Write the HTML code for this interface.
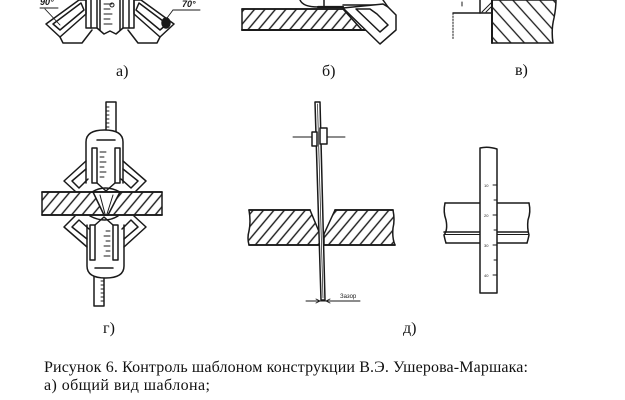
<!DOCTYPE html>
<html><head><meta charset="utf-8"><style>
html,body{margin:0;padding:0;background:#fff;}
svg{display:block;}
</style></head><body>
<svg width="625" height="400" viewBox="0 0 625 400" xmlns="http://www.w3.org/2000/svg">
<defs>
<pattern id="h1" patternUnits="userSpaceOnUse" width="8" height="8" patternTransform="rotate(40)"><line x1="1" y1="0" x2="1" y2="8" stroke="#1a1a1a" stroke-width="1.4"/></pattern>
<pattern id="h2" patternUnits="userSpaceOnUse" width="10" height="10" patternTransform="rotate(-42)"><line x1="1" y1="0" x2="1" y2="10" stroke="#1a1a1a" stroke-width="1.3"/></pattern>
</defs>
<rect width="625" height="400" fill="#fff"/>

<g fill="none" stroke="#1a1a1a" stroke-width="1.5" stroke-linejoin="round" stroke-linecap="round">

<!-- ===== Figure а) ===== -->
<g>
  <polygon points="79,0 46,24 60,37 86,14 86,0"/>
  <polygon points="81,3 53,24 60,30 84,10"/>
  <polyline points="60,37 63,43 82,43 92,30"/>
</g>
<g transform="translate(220,0) scale(-1,1)">
  <polygon points="79,0 46,24 60,37 86,14 86,0"/>
  <polygon points="81,3 53,24 60,30 84,10"/>
  <polyline points="60,37 63,43 82,43 92,30"/>
</g>
<rect x="86" y="-2" width="11" height="30"/>
<line x1="91" y1="0" x2="91" y2="28"/>
<rect x="123" y="-2" width="11" height="30"/>
<line x1="129" y1="0" x2="129" y2="28"/>
<line x1="100" y1="0" x2="100" y2="30"/>
<line x1="120" y1="0" x2="120" y2="30"/>
<polyline points="97,28 104,34 110,31 116,34 123,28"/>
<g stroke-width="1">
  <line x1="104" y1="4" x2="112" y2="4"/>
  <line x1="104" y1="9" x2="110" y2="9"/>
  <line x1="104" y1="14" x2="112" y2="14"/>
  <line x1="104" y1="19" x2="110" y2="19"/>
  <line x1="104" y1="24" x2="112" y2="24"/>
  <circle cx="112" cy="5" r="2"/>
</g>
<ellipse cx="166" cy="23" rx="4" ry="5" fill="#1a1a1a"/>
<g stroke-width="0.9">
  <line x1="40" y1="8" x2="58" y2="8"/>
  <line x1="45" y1="9" x2="60" y2="25"/>
  <line x1="173" y1="10" x2="200" y2="10"/>
  <line x1="173" y1="10" x2="164" y2="22"/>
</g>

<!-- ===== Figure б) ===== -->
<polygon points="242,9 343,9 362,30 242,30" fill="url(#h1)"/>
<line x1="242" y1="30" x2="366" y2="30" stroke-width="2"/>
<line x1="242" y1="9" x2="343" y2="9" stroke-width="1.8"/>
<path d="M300,0 Q303,7 318,7"/>
<line x1="318" y1="7" x2="343" y2="7" stroke-width="2.2"/>
<line x1="324" y1="0" x2="324" y2="7"/>
<line x1="343" y1="5" x2="378" y2="5"/>
<polygon points="343,8 380,44 396,30 396,15 388,7 383,4" fill="#fff"/>
<polygon points="356,9 380,32 388,25 377,14 370,9" fill="none"/>
<line x1="383" y1="0" x2="388" y2="7"/>

<!-- ===== Figure в) ===== -->
<path d="M492,0 L492,43 L553,43 Q551,30 554,18 Q556,8 556,0 Z" fill="url(#h2)"/>
<line x1="492" y1="0" x2="492" y2="43" stroke-width="2"/>
<line x1="453" y1="13" x2="492" y2="13"/>
<line x1="453" y1="13" x2="453" y2="40" stroke-dasharray="1.5,1.5" stroke-width="1"/>
<line x1="480" y1="0" x2="480" y2="13"/>
<line x1="482" y1="12" x2="491" y2="3" stroke-width="1"/>
<line x1="486" y1="12" x2="491" y2="7" stroke-width="1"/>
<line x1="462" y1="2" x2="462" y2="6" stroke-width="1"/>

<!-- ===== Figure г) ===== -->
<rect x="42" y="192" width="120" height="23" fill="url(#h1)"/>
<polygon points="93,192 120,192 108,215 104,215" fill="#fff"/>
<line x1="100" y1="195" x2="105" y2="214" stroke-width="1"/>
<line x1="113" y1="195" x2="107" y2="214" stroke-width="1"/>
<line x1="42" y1="192" x2="162" y2="192" stroke-width="1.8"/>
<line x1="42" y1="215" x2="162" y2="215" stroke-width="1.8"/>

<g>
  <rect x="106" y="102" width="10" height="36" fill="#fff"/>
  <g stroke-width="0.9">
    <line x1="106" y1="107" x2="109" y2="107"/><line x1="106" y1="111" x2="109" y2="111"/>
    <line x1="106" y1="115" x2="109" y2="115"/><line x1="106" y1="119" x2="109" y2="119"/>
    <line x1="106" y1="123" x2="109" y2="123"/><line x1="106" y1="127" x2="109" y2="127"/>
    <line x1="106" y1="131" x2="109" y2="131"/>
  </g>
  <path d="M86,183 L86,142 Q86,130 104.5,130 Q123,130 123,142 L123,183" fill="#fff"/>
  <rect x="92" y="148" width="5" height="35"/>
  <rect x="115" y="148" width="5" height="35"/>
  <line x1="97" y1="140" x2="115" y2="140"/>
  <polyline points="97,183 106,191 115,183"/>
  <g stroke-width="0.9">
    <line x1="100" y1="152" x2="106" y2="152"/><line x1="100" y1="157" x2="104" y2="157"/>
    <line x1="100" y1="162" x2="106" y2="162"/><line x1="100" y1="167" x2="104" y2="167"/>
    <line x1="100" y1="172" x2="106" y2="172"/><line x1="100" y1="177" x2="104" y2="177"/>
  </g>
  <polyline points="86,161 64,181 76,192"/>
  <polyline points="86,169 72,181 79,188 88,179"/>
  <polyline points="123,161 146,181 135,192"/>
  <polyline points="123,169 138,181 131,188 121,179"/>
  <path d="M92,192 Q105,184 120,192"/>
</g>
<g transform="rotate(180 105 204)">
  <rect x="106" y="102" width="10" height="36" fill="#fff"/>
  <g stroke-width="0.9">
    <line x1="106" y1="107" x2="109" y2="107"/><line x1="106" y1="111" x2="109" y2="111"/>
    <line x1="106" y1="115" x2="109" y2="115"/><line x1="106" y1="119" x2="109" y2="119"/>
    <line x1="106" y1="123" x2="109" y2="123"/><line x1="106" y1="127" x2="109" y2="127"/>
    <line x1="106" y1="131" x2="109" y2="131"/>
  </g>
  <path d="M86,183 L86,142 Q86,130 104.5,130 Q123,130 123,142 L123,183" fill="#fff"/>
  <rect x="92" y="148" width="5" height="35"/>
  <rect x="115" y="148" width="5" height="35"/>
  <line x1="97" y1="140" x2="115" y2="140"/>
  <polyline points="97,183 106,191 115,183"/>
  <g stroke-width="0.9">
    <line x1="100" y1="152" x2="106" y2="152"/><line x1="100" y1="157" x2="104" y2="157"/>
    <line x1="100" y1="162" x2="106" y2="162"/><line x1="100" y1="167" x2="104" y2="167"/>
    <line x1="100" y1="172" x2="106" y2="172"/><line x1="100" y1="177" x2="104" y2="177"/>
  </g>
  <polyline points="86,161 64,181 76,192"/>
  <polyline points="86,169 72,181 79,188 88,179"/>
  <polyline points="123,161 146,181 135,192"/>
  <polyline points="123,169 138,181 131,188 121,179"/>
  <path d="M92,192 Q105,184 120,192"/>
</g>

<!-- ===== Figure д) ===== -->
<path d="M249,210 L310,210 L320,234 L320,245 L249,245 Q247,238 249,231 Q251,222 249,210 Z" fill="url(#h1)"/>
<path d="M335,210 L393,210 Q395,220 393,228 Q392,238 395,245 L324,245 L324,234 Z" fill="url(#h1)"/>
<line x1="249" y1="210" x2="310" y2="210" stroke-width="1.7"/>
<line x1="335" y1="210" x2="393" y2="210" stroke-width="1.7"/>
<line x1="249" y1="245" x2="395" y2="245" stroke-width="1.7"/>
<polygon points="315,102 320,102 325,300 321,300" fill="#fff"/>
<line x1="317.5" y1="104" x2="323" y2="298" stroke-width="0.7"/>
<rect x="312" y="132" width="5" height="14" fill="#fff"/>
<rect x="320" y="128" width="7" height="16" fill="#fff"/>
<line x1="293" y1="137" x2="312" y2="137" stroke-width="0.9"/>
<line x1="327" y1="137" x2="345" y2="137" stroke-width="0.9"/>
<line x1="306" y1="301" x2="360" y2="301" stroke-width="0.9"/>
<polyline points="316,299 320,301 316,303" stroke-width="0.9"/>
<polyline points="330,299 326,301 330,303" stroke-width="0.9"/>

<!-- ===== Right figure ===== -->
<path d="M445,203 L480,203 M497,203 L529,203"/>
<path d="M444,232 L480,232 M497,232 L528,232" />
<path d="M444,234.5 L480,234.5 M497,234.5 L528,234.5" stroke-width="0.9"/>
<path d="M446,243 L480,243 M497,243 L527,243"/>
<path d="M445,203 Q443,212 446,220 Q448,230 444,235 Q445,240 446,243"/>
<path d="M529,203 Q531,212 528,220 Q527,228 529,235 Q528,240 527,243"/>
<path d="M480,148 Q488,146 497,149 L497,293 L480,293 Z" fill="#fff"/>
<g stroke-width="0.9">
  <line x1="493" y1="185" x2="497" y2="185"/><line x1="494" y1="200" x2="497" y2="200"/>
  <line x1="493" y1="215" x2="497" y2="215"/><line x1="494" y1="230" x2="497" y2="230"/>
  <line x1="493" y1="245" x2="497" y2="245"/><line x1="494" y1="260" x2="497" y2="260"/>
  <line x1="493" y1="275" x2="497" y2="275"/>
</g>
</g>

<!-- ===== Text ===== -->
<g font-family="'Liberation Sans', 'DejaVu Sans', sans-serif" fill="#1a1a1a">
  <text x="40" y="5" font-size="9" font-style="italic" font-weight="bold">90°</text>
  <text x="182" y="7" font-size="9" font-style="italic" font-weight="bold">70°</text>
  <text x="340" y="298" font-size="6">Зазор</text>
  <text x="484" y="187" font-size="4">10</text>
  <text x="484" y="217" font-size="4">20</text>
  <text x="484" y="247" font-size="4">30</text>
  <text x="484" y="277" font-size="4">40</text>
</g>
<g font-family="'Liberation Serif', 'Noto Serif CJK SC', serif" font-size="16" fill="#111">
  <text x="116" y="76">а)</text>
  <text x="322" y="76">б)</text>
  <text x="515" y="75">в)</text>
  <text x="103" y="333">г)</text>
  <text x="403" y="333">д)</text>
  <text x="44" y="372" textLength="484" lengthAdjust="spacing">Рисунок 6. Контроль шаблоном конструкции В.Э. Ушерова-Маршака:</text>
  <text x="44" y="390" textLength="166" lengthAdjust="spacing">а) общий вид шаблона;</text>
</g>
</svg>
</body></html>
